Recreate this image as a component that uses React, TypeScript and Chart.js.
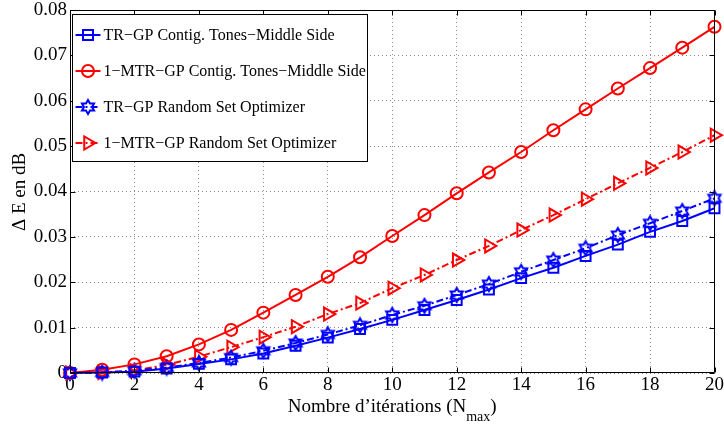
import React, { useEffect, useRef } from 'react';
import { Chart, registerables } from 'chart.js';

Chart.register(...registerables);

// ---------- data ----------
const iterations = [0, 1, 2, 3, 4, 5, 6, 7, 8, 9, 10, 11, 12, 13, 14, 15, 16, 17, 18, 19, 20];
const trGpContig = [0, 0.0001, 0.0003, 0.0010, 0.0020, 0.0030, 0.0043, 0.0060, 0.0078, 0.0097, 0.0117, 0.0139, 0.0161, 0.0184, 0.0209, 0.0232, 0.0258, 0.0283, 0.0311, 0.0335, 0.0363];
const mtrGpContig = [0, 0.0007, 0.0019, 0.0037, 0.0063, 0.0095, 0.0133, 0.0172, 0.0212, 0.0255, 0.0302, 0.0348, 0.0396, 0.0442, 0.0487, 0.0535, 0.0581, 0.0627, 0.0672, 0.0717, 0.0763];
const trGpRandom = [0, 0.0001, 0.0005, 0.0012, 0.0022, 0.0034, 0.0049, 0.0066, 0.0085, 0.0105, 0.0128, 0.0148, 0.0172, 0.0196, 0.0223, 0.0249, 0.0275, 0.0304, 0.0330, 0.0357, 0.0385];
const mtrGpRandom = [0, 0.0001, 0.0005, 0.0018, 0.0036, 0.0057, 0.0079, 0.0102, 0.0130, 0.0154, 0.0187, 0.0216, 0.0249, 0.0280, 0.0315, 0.0348, 0.0383, 0.0418, 0.0452, 0.0487, 0.0524];

const seriesLabels = [
  'TR\u2212GP Contig. Tones\u2212Middle Side',
  '1\u2212MTR\u2212GP Contig. Tones\u2212Middle Side',
  'TR\u2212GP Random Set Optimizer',
  '1\u2212MTR\u2212GP Random Set Optimizer',
];

const xTicks = [0, 2, 4, 6, 8, 10, 12, 14, 16, 18, 20];
const yTicks = [0, 0.01, 0.02, 0.03, 0.04, 0.05, 0.06, 0.07, 0.08];
const yTickLabels = ['0', '0.01', '0.02', '0.03', '0.04', '0.05', '0.06', '0.07', '0.08'];

const xTitleMain = 'Nombre d\u2019it\u00e9rations (N';
const xTitleSub = 'max';
const xTitleEnd = ')';
const yTitle = '\u0394 E en dB';

// ---------- styles ----------
const FONT = "'Liberation Serif', 'Times New Roman', serif";
const BLUE = '#0000ff';
const RED = '#ff0000';
const DASHDOT = [7, 3, 2, 3];

function makeHexagram(color: string, r: number): HTMLCanvasElement {
  const s = Math.ceil(r * 2 + 4);
  const c = document.createElement('canvas');
  c.width = s;
  c.height = s;
  const ctx = c.getContext('2d')!;
  ctx.strokeStyle = color;
  ctx.lineWidth = 2;
  ctx.lineJoin = 'miter';
  const cx = s / 2;
  const cy = s / 2;
  ctx.beginPath();
  for (let i = 0; i < 12; i++) {
    const ang = -Math.PI / 2 + (i * Math.PI) / 6;
    const rr = i % 2 === 0 ? r : r * 0.577;
    const px = cx + Math.cos(ang) * rr;
    const py = cy + Math.sin(ang) * rr;
    if (i === 0) ctx.moveTo(px, py);
    else ctx.lineTo(px, py);
  }
  ctx.closePath();
  ctx.stroke();
  return c;
}

type LegendSpec = { color: string; dash: number[]; marker: string };
const legendSpecs: LegendSpec[] = [
  { color: BLUE, dash: [], marker: 'square' },
  { color: RED, dash: [], marker: 'circle' },
  { color: BLUE, dash: DASHDOT, marker: 'hexagram' },
  { color: RED, dash: DASHDOT, marker: 'triangle' },
];

function drawMarker(ctx: CanvasRenderingContext2D, kind: string, x: number, y: number, color: string, hex: HTMLCanvasElement) {
  ctx.save();
  ctx.setLineDash([]);
  ctx.strokeStyle = color;
  ctx.lineWidth = 2;
  ctx.beginPath();
  if (kind === 'square') {
    ctx.rect(x - 5, y - 5, 10, 10);
    ctx.stroke();
  } else if (kind === 'circle') {
    ctx.arc(x, y, 6, 0, Math.PI * 2);
    ctx.stroke();
  } else if (kind === 'triangle') {
    const r = 7.5;
    for (let i = 0; i < 3; i++) {
      const ang = (i * 2 * Math.PI) / 3;
      const px = x + Math.cos(ang) * r;
      const py = y + Math.sin(ang) * r;
      if (i === 0) ctx.moveTo(px, py);
      else ctx.lineTo(px, py);
    }
    ctx.closePath();
    ctx.stroke();
  } else if (kind === 'hexagram') {
    ctx.drawImage(hex, x - hex.width / 2, y - hex.height / 2);
  }
  ctx.restore();
}

export default function App() {
  const ref = useRef<HTMLCanvasElement | null>(null);

  useEffect(() => {
    const canvas = ref.current;
    if (!canvas) return;
    const hexBlue = makeHexagram(BLUE, 7);

    const decor = {
      id: 'matlabDecor',
      afterDraw(chart: any) {
        const { ctx, chartArea: a, scales } = chart;
        ctx.save();
        // frame
        ctx.strokeStyle = '#000';
        ctx.lineWidth = 1;
        ctx.setLineDash([]);
        const L = Math.round(a.left) + 0.5;
        const R = Math.round(a.right) - 0.5;
        const T = Math.round(a.top) + 0.5;
        const B = Math.round(a.bottom) - 0.5;
        ctx.beginPath();
        ctx.rect(L, T, R - L, B - T);
        // inward ticks
        xTicks.forEach((v) => {
          const x = Math.round(scales.x.getPixelForValue(v)) + 0.5;
          ctx.moveTo(x, B);
          ctx.lineTo(x, B - 5);
          ctx.moveTo(x, T);
          ctx.lineTo(x, T + 5);
        });
        yTicks.forEach((v) => {
          const y = Math.round(scales.y.getPixelForValue(v)) + 0.5;
          ctx.moveTo(L, y);
          ctx.lineTo(L + 5, y);
          ctx.moveTo(R, y);
          ctx.lineTo(R - 5, y);
        });
        ctx.stroke();

        // legend box
        const lx = Math.round(a.left) + 2.5;
        const ly = Math.round(a.top) + 4.5;
        const lw = 295;
        const lh = 147;
        ctx.fillStyle = '#fff';
        ctx.fillRect(lx, ly, lw, lh);
        ctx.strokeStyle = '#000';
        ctx.lineWidth = 1;
        ctx.strokeRect(lx, ly, lw, lh);
        ctx.font = `16px ${FONT}`;
        ctx.textBaseline = 'middle';
        ctx.textAlign = 'left';
        legendSpecs.forEach((spec, i) => {
          const cy = Math.round(ly + 20 + i * 36);
          ctx.save();
          ctx.strokeStyle = spec.color;
          ctx.lineWidth = 2;
          ctx.setLineDash(spec.dash);
          ctx.beginPath();
          ctx.moveTo(lx + 3, cy);
          ctx.lineTo(lx + 28, cy);
          ctx.stroke();
          ctx.restore();
          drawMarker(ctx, spec.marker, lx + 15.5, cy, spec.color, hexBlue);
          ctx.fillStyle = '#000';
          ctx.fillText(seriesLabels[i], lx + 31, cy + 1);
        });

        // x title with subscript
        ctx.fillStyle = '#000';
        ctx.textBaseline = 'alphabetic';
        ctx.font = `19px ${FONT}`;
        const w1 = ctx.measureText(xTitleMain).width;
        const w3 = ctx.measureText(xTitleEnd).width;
        ctx.font = `14px ${FONT}`;
        const w2 = ctx.measureText(xTitleSub).width;
        const total = w1 + w2 + w3;
        const cx = (a.left + a.right) / 2;
        const x0 = cx - total / 2;
        const base = 412;
        ctx.font = `19px ${FONT}`;
        ctx.fillText(xTitleMain, x0, base);
        ctx.font = `14px ${FONT}`;
        ctx.fillText(xTitleSub, x0 + w1, base + 9);
        ctx.font = `19px ${FONT}`;
        ctx.fillText(xTitleEnd, x0 + w1 + w2, base);

        // y title
        ctx.save();
        ctx.translate(20, 192);
        ctx.rotate(-Math.PI / 2);
        ctx.textAlign = 'center';
        ctx.textBaseline = 'middle';
        ctx.font = `19px ${FONT}`;
        ctx.fillText(yTitle, 0, 0);
        ctx.restore();

        ctx.restore();
      },
    };

    const mk = (label: string, data: number[], color: string, dash: number[], pointStyle: any, radius: number, rotation = 0) => ({
      label,
      data: iterations.map((x, i) => ({ x, y: data[i] })),
      borderColor: color,
      backgroundColor: 'rgba(0,0,0,0)',
      borderWidth: 2,
      borderDash: dash,
      pointStyle,
      pointRadius: radius,
      pointRotation: rotation,
      pointBorderColor: color,
      pointBackgroundColor: 'rgba(0,0,0,0)',
      pointBorderWidth: 2,
      tension: 0,
      clip: false as any,
      fill: false,
    });

    const chart = new Chart(canvas, {
      type: 'line',
      data: {
        datasets: [
          mk(seriesLabels[0], trGpContig, BLUE, [], 'rect', 7),
          mk(seriesLabels[1], mtrGpContig, RED, [], 'circle', 6),
          mk(seriesLabels[2], trGpRandom, BLUE, DASHDOT, hexBlue, 7),
          mk(seriesLabels[3], mtrGpRandom, RED, DASHDOT, 'triangle', 7.5, 90),
        ],
      },
      options: {
        animation: false,
        responsive: false,
        maintainAspectRatio: false,
        layout: { padding: { left: 0, right: 9, top: 10, bottom: 0 } },
        plugins: {
          legend: { display: false },
          tooltip: { enabled: false },
          title: { display: false },
        },
        scales: {
          x: {
            type: 'linear',
            min: 0,
            max: 20,
            afterBuildTicks: (s: any) => {
              s.ticks = xTicks.map((v) => ({ value: v }));
            },
            afterFit: (s: any) => {
              s.height = 52;
              s.paddingLeft = 0;
              s.paddingRight = 0;
            },
            ticks: {
              color: '#000',
              padding: 3,
              maxRotation: 0,
              autoSkip: false,
              font: { family: FONT, size: 19, lineHeight: 1 },
              callback: (v: any) => String(v),
            },
            grid: { color: 'rgba(0,0,0,0.45)', drawTicks: false, lineWidth: 1 },
            border: { display: false, dash: [1, 3] },
          },
          y: {
            type: 'linear',
            min: 0,
            max: 0.08,
            afterBuildTicks: (s: any) => {
              s.ticks = yTicks.map((v) => ({ value: v }));
            },
            afterFit: (s: any) => {
              s.width = 70;
              s.paddingTop = 0;
              s.paddingBottom = 0;
            },
            ticks: {
              color: '#000',
              padding: 3,
              autoSkip: false,
              font: { family: FONT, size: 19, lineHeight: 1 },
              callback: (v: any) => {
                const idx = yTicks.findIndex((t) => Math.abs(t - v) < 1e-9);
                return idx >= 0 ? yTickLabels[idx] : '';
              },
            },
            grid: { color: 'rgba(0,0,0,0.45)', drawTicks: false, lineWidth: 1 },
            border: { display: false, dash: [1, 3] },
          },
        },
      },
      plugins: [decor],
    } as any);

    return () => chart.destroy();
  }, []);

  return (
    <div style={{ position: 'absolute', left: 0, top: 0, width: 724, height: 425, background: '#fff' }}>
      <canvas ref={ref} width={724} height={425} style={{ display: 'block' }} />
    </div>
  );
}
